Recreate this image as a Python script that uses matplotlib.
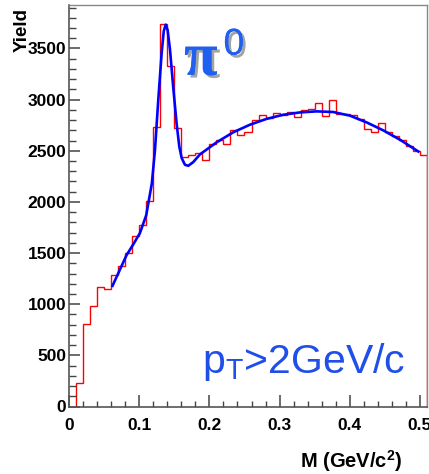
import numpy as np
import matplotlib
matplotlib.use('Agg')
import matplotlib.pyplot as plt
from matplotlib.ticker import MultipleLocator
import matplotlib.patheffects as pe

# histogram: 51 bins of 0.01 GeV/c^2 from 0 to 0.51
bin_edges = np.round(np.arange(0, 0.5101, 0.01), 3)
counts = [0, 233, 807, 985, 1170, 1148, 1285, 1376, 1505, 1662,
          1775, 2010, 2733, 3737, 3327, 2720, 2435, 2460, 2480, 2405,
          2566, 2602, 2569, 2699, 2657, 2685, 2800, 2845, 2820, 2865,
          2848, 2882, 2828, 2895, 2908, 2963, 2836, 2992, 2860, 2857,
          2852, 2810, 2709, 2679, 2771, 2679, 2640, 2608, 2549, 2493,
          2461]

# fit curve
fit_x = [0.062, 0.070, 0.082, 0.092, 0.101, 0.110, 0.118, 0.1225, 0.1272, 0.132,
         0.135, 0.1377, 0.1405, 0.1439, 0.1486, 0.1534, 0.1571, 0.1605, 0.1652, 0.1699,
         0.1771, 0.1866, 0.2104, 0.2341, 0.2578, 0.2816, 0.3053, 0.329, 0.3528, 0.3765,
         0.4003, 0.4241, 0.4478, 0.4715, 0.4976]
fit_y = [1180, 1300, 1480, 1590, 1695, 1870, 2180, 2510, 3000, 3456,
         3670, 3733, 3680, 3488, 3110, 2760, 2542, 2429, 2363, 2353,
         2390, 2465, 2583, 2681, 2755, 2812, 2852, 2875, 2885, 2879,
         2843, 2777, 2699, 2608, 2493]

W, H = 429, 474
fig = plt.figure(figsize=(W/100, H/100), dpi=100)
ax = fig.add_axes([69/W, (H-406.5)/H, 358/W, 401.5/H])

ax.stairs(counts, bin_edges, color='#ff0000', lw=1.0)
ax.plot(fit_x, fit_y, color='#0000ff', lw=1.9)

ax.set_xlim(0, 0.51)
ax.set_ylim(0, 3925)

ax.xaxis.set_major_locator(MultipleLocator(0.1))
ax.xaxis.set_minor_locator(MultipleLocator(0.02))
ax.yaxis.set_major_locator(MultipleLocator(500))
ax.yaxis.set_minor_locator(MultipleLocator(100))
ax.set_xticks([0, 0.1, 0.2, 0.3, 0.4, 0.5])
ax.set_xticklabels(['0', '0.1', '0.2', '0.3', '0.4', '0.5'])

tickfont = dict(family='Liberation Sans', weight='bold', size=12.5)
for lab in ax.get_xticklabels() + ax.get_yticklabels():
    lab.set_fontproperties(matplotlib.font_manager.FontProperties(**tickfont))

ax.tick_params(axis='x', which='major', direction='in', length=9, width=1.1, color='#444444', pad=8)
ax.tick_params(axis='x', which='minor', direction='in', length=4.5, width=1.0, color='#444444')
ax.tick_params(axis='y', which='major', direction='in', length=8, width=1.1, color='#444444', pad=2)
ax.tick_params(axis='y', which='minor', direction='in', length=5, width=1.0, color='#444444')

for s in ['left', 'bottom']:
    ax.spines[s].set_color('#555555')
    ax.spines[s].set_linewidth(1.2)
for s in ['top', 'right']:
    ax.spines[s].set_color('#888888')
    ax.spines[s].set_linewidth(1.0)

plt.rcParams['mathtext.fontset'] = 'custom'
plt.rcParams['mathtext.rm'] = 'Liberation Sans'
plt.rcParams['mathtext.bf'] = 'Liberation Sans:bold'

fig.text(22/W, 1 - 8/H, 'Yield', rotation=90, ha='center', va='top',
         family='Liberation Sans', weight='bold', size=13.5)
fig.text(402/W, 1 - 468/H, 'M (GeV/c$^{\\mathbf{2}}$)', ha='right', va='baseline',
         family='Liberation Sans', weight='bold', size=14.5)

shadow = [pe.withSimplePatchShadow(offset=(2, -2), shadow_rgbFace='#999999', alpha=0.9), pe.Normal()]
ax.text(0.164, 3243, '\u03c0', color='#2060f0', family='Liberation Serif', weight='bold',
        size=44, ha='left', va='baseline', path_effects=shadow)
ax.text(0.220, 3439, '0', color='#2060f0', family='Liberation Sans', size=27,
        ha='left', va='baseline', path_effects=shadow)

ax.text(0.189, 328, 'p$_{\\mathrm{T}}$>2GeV/c', color='#1f4fe8', family='Liberation Sans',
        size=29.5, ha='left', va='baseline')

fig.savefig('out.png', dpi=100)
